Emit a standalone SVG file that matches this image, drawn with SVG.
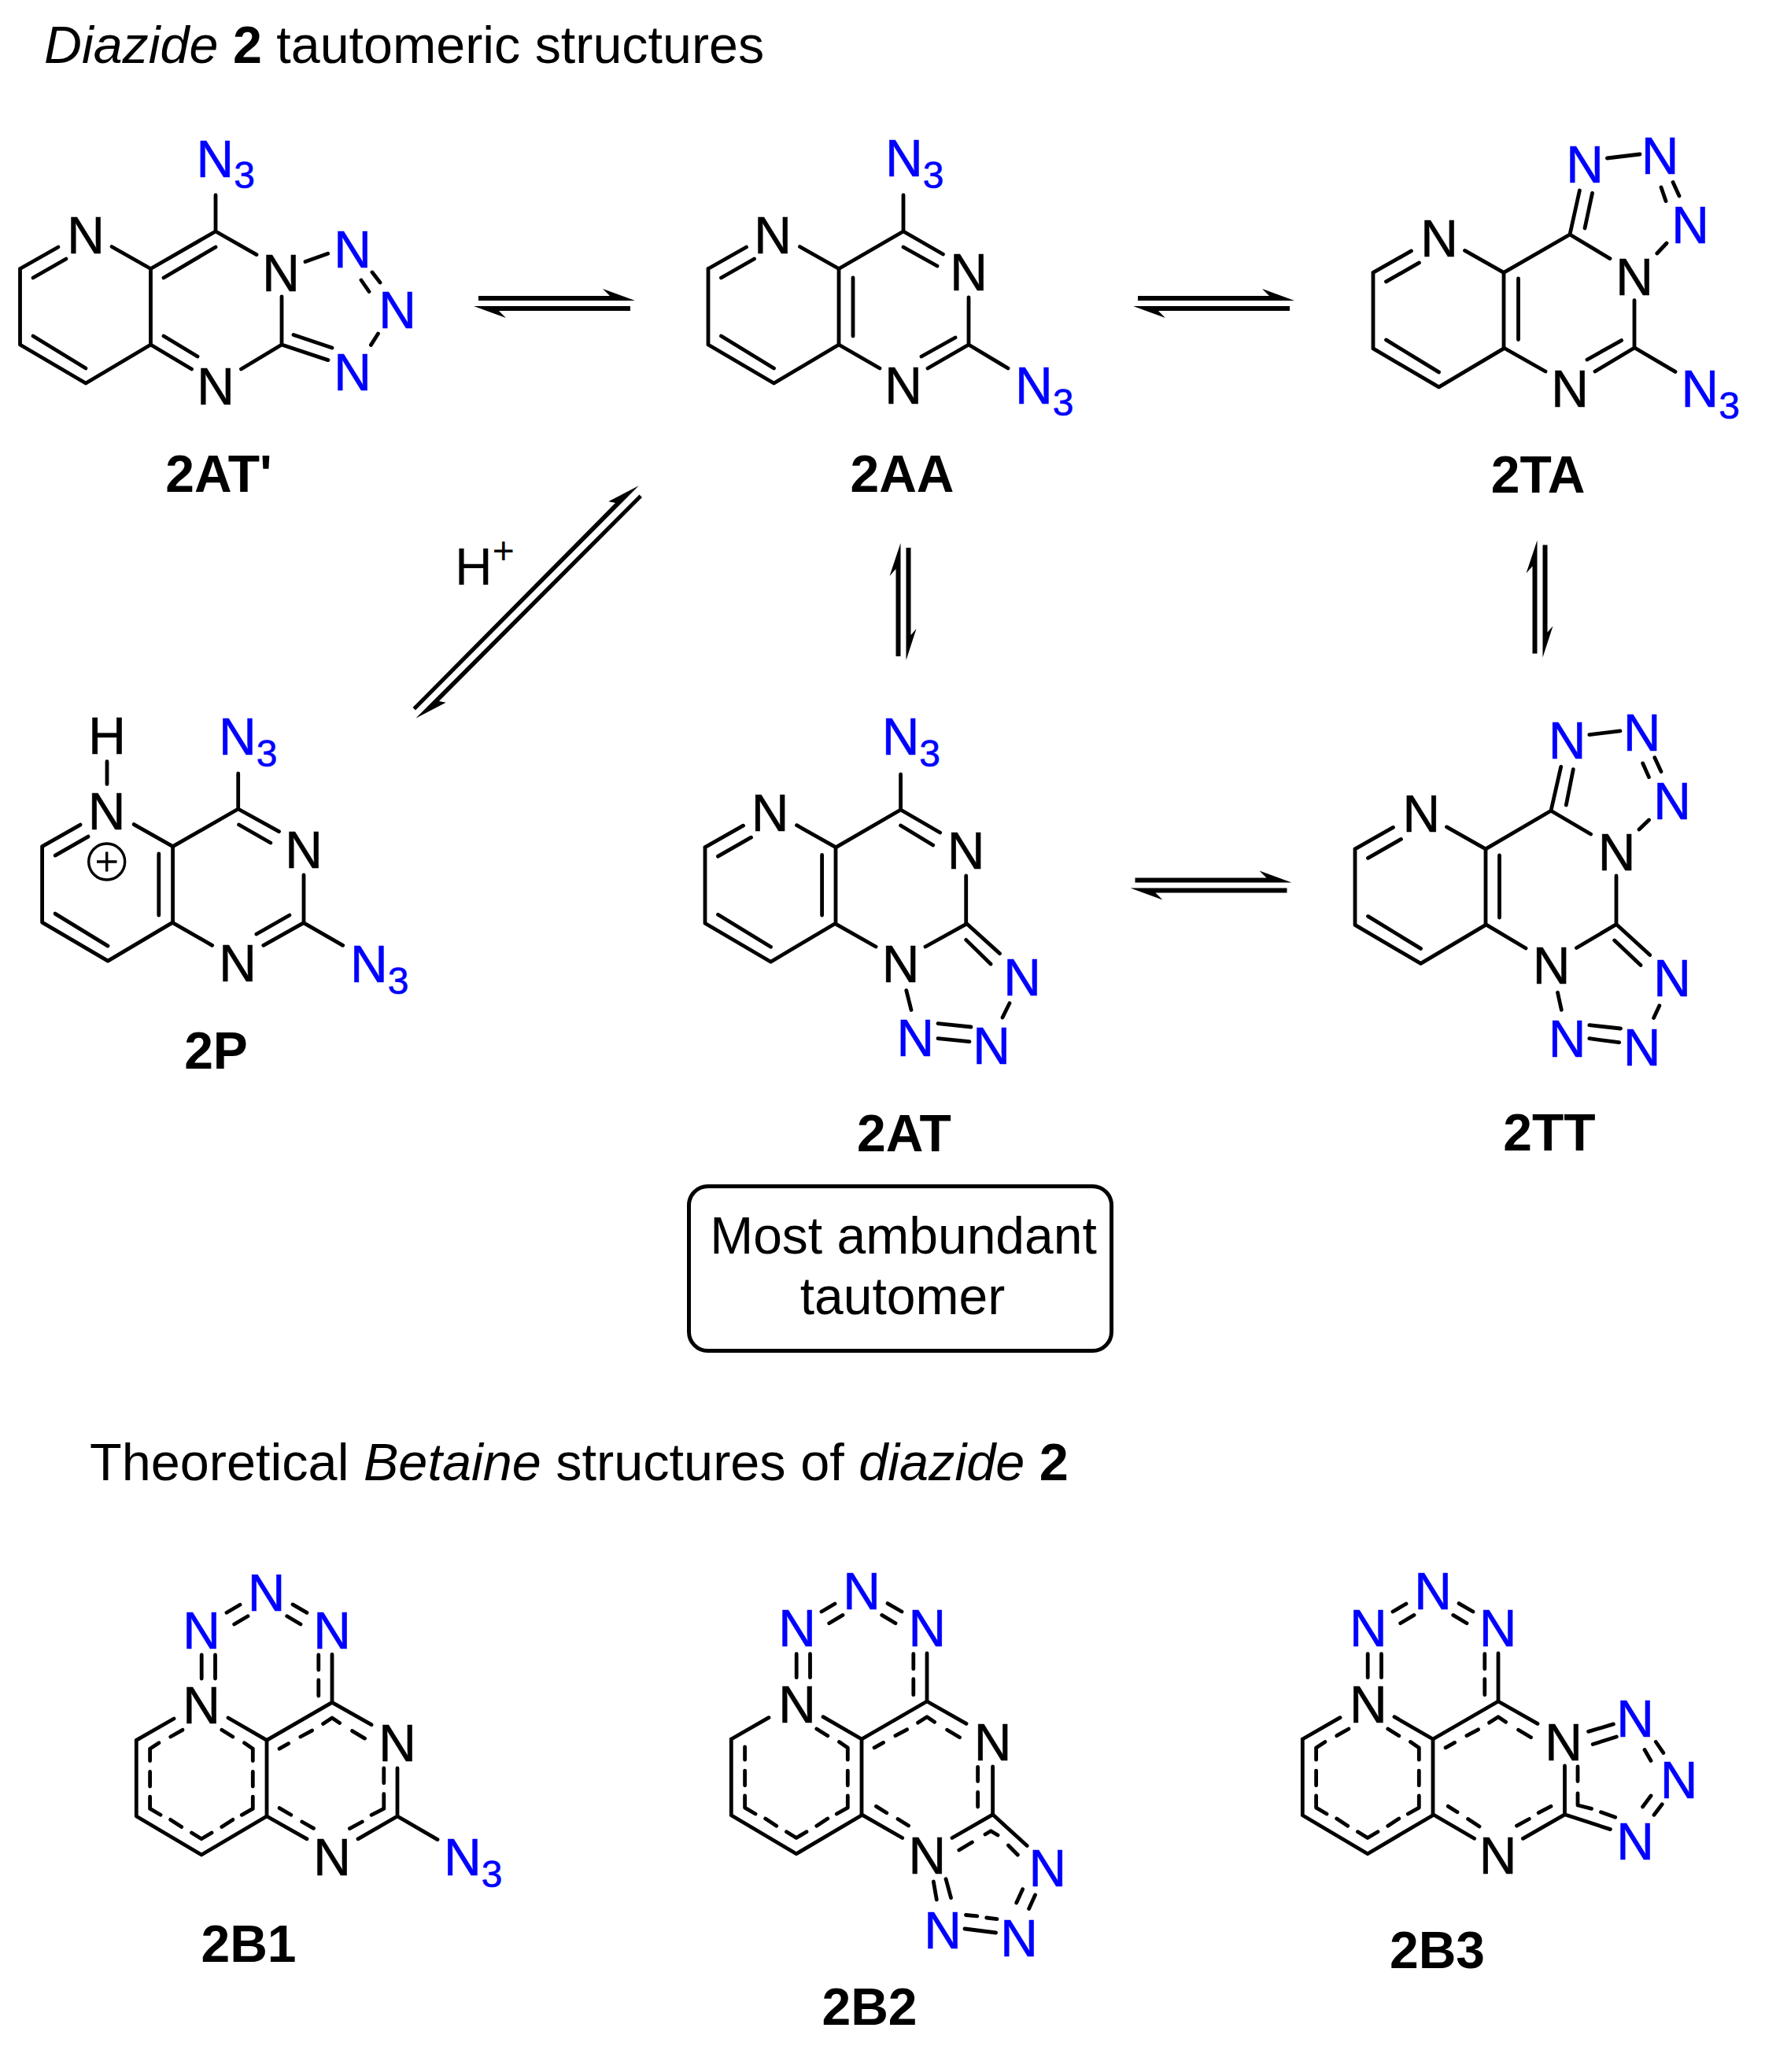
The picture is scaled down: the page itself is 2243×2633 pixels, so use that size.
<svg xmlns="http://www.w3.org/2000/svg" width="2243" height="2633" viewBox="0 0 2243 2633">
<style>
text{font-family:"Liberation Sans",Arial,sans-serif;font-size:66px;fill:#000}
.b{fill:none;stroke:#000;stroke-width:4.8;stroke-linecap:round;stroke-linejoin:round}
.n{text-anchor:middle;stroke:#000;stroke-width:.6}
.az{fill:#0000ff;stroke:#0000ff;stroke-width:.6}
.s{font-size:48px}
.lab{font-weight:bold;text-anchor:middle}
.arr{fill:#000;stroke:none}
.h1{font-size:66.4px}
.h2{font-size:66.6px}
</style>
<defs>
<path id="pyr" class="b" d="M-166,0L-117.5,-27.5M-149.5,11.5L-107.5,-12.5M-49.5,-28L0,0V96.5L-82.5,145.5L-166,96.5V0M-149.5,85.5L-82.5,126.5"/>
<path id="pyrB" class="b" d="M-165.7,0L-118,-27.3M-49,-28.3L0,0V96.7L-83,145.7L-165.7,96.7V0"/>
<path id="ulDash" class="b" d="M-107,-13L-122.3,-4.3M-137,3.5L-148.4,10.9V26.2"/>
<path id="ringDash" class="b" d="M-148.4,40.1V58.8M-148.4,71.9V87.1L-135,95M-122.3,101.1L-108.3,110.2M-95.5,117.7L-83,125.5L-70,117.7M-57.2,110.2L-43.2,101.1M-31.7,95L-17.7,87.1V71.9M-17.7,58.8V40.1M-17.7,26.2V10.9L-28.5,3.5M-43.2,-4.3L-57.2,-13"/>
<path id="topB" class="b" d="M0,0L83,-48L133,-19.6M16.1,10.9L27.6,4.4M42.9,-4.3L57.6,-12.2M71.6,-20.9L83,-28.3L92.6,-21.8M108.6,-11.7L124.5,-2.2M83,-48V-109M65.8,-108.3V-89.3M65.8,-76.3V-56.3M-82.8,-108.3V-78.3M-65.5,-108.3V-78.3M-51,-162L-34,-172M-41.3,-147.3L-24,-157.6M33,-172.4L51,-162M25.7,-157.6L43,-147.3"/>
<path id="eq" class="arr" d="M6,-13H173L164,-22L205,-7H6ZM199,0H0L41,15L32,6H199Z"/>
<path id="eqV" class="arr" d="M1144.5,834V690L1130.5,732L1138.5,723V834ZM1151.5,696V839L1164.5,799L1157.5,807V696Z"/>
</defs>

<g id="titles">
<text class="h1" x="56" y="79.5"><tspan font-style="italic">Diazide</tspan> <tspan font-weight="bold">2</tspan> tautomeric structures</text>
<text class="h2" x="114" y="1881"><tspan>Theoretical </tspan><tspan font-style="italic">Betaine</tspan><tspan> structures of </tspan><tspan font-style="italic">diazide</tspan> <tspan font-weight="bold">2</tspan></text>
</g>

<g id="connectors">
<use href="#eq" x="602" y="389"/>
<use href="#eq" x="1440" y="389"/>
<use href="#eq" x="1436.5" y="1128.5"/>
<use href="#eqV"/>
<use href="#eqV" x="809" y="-3.5"/>
<path class="arr" d="M811.7,617.3L773.3,637.3L782,639L524.5,899L528,902.5ZM528.3,912.7L566.7,892.7L558,891L816,632L812.5,628.5Z"/>
<text id="h-plus" x="578" y="742.7">H<tspan class="s" dy="-26.4">+</tspan></text>
</g>

<g id="mol-2ATp">
<use href="#pyr" x="191.5" y="341.5"/>
<path class="b" d="M274,248V294M191.5,341.5L274,294L326,323.6M208,353L274,314M358,377V438L306.5,469M191.5,438L243.5,469M208,427L251,453M358,438L417,457.6M373,425.4L422,442M388,332.6L416.7,322.3M459,356L469,370.5M473,346L483,359M480.5,424L471.4,438.4"/>
<text class="n" x="109" y="321.5">N</text><text class="n" x="357" y="370">N</text><text class="n" x="274" y="513.5">N</text>
<text class="n az" x="448" y="340">N</text><text class="n az" x="505" y="417">N</text><text class="n az" x="448" y="495.5">N</text>
<text class="az" x="249.5" y="224.5">N<tspan class="s" dy="14.5">3</tspan></text>
<text class="lab" x="278" y="625">2AT'</text>
</g>

<g id="mol-2AA">
<use href="#pyr" x="1066" y="341.5"/>
<path class="b" d="M1148,248V294M1066,341.5L1148,294L1198.4,323M1148,314L1191,338M1084,353V427M1231,378V438L1179,468M1214,429L1171,453M1066,438L1118,468M1231,438L1281,468"/>
<text class="n" x="982" y="321.5">N</text><text class="n" x="1231" y="369">N</text><text class="n" x="1148" y="513">N</text>
<text class="az" x="1125" y="224">N<tspan class="s" dy="14.5">3</tspan></text>
<text class="az" x="1290" y="513">N<tspan class="s" dy="14.5">3</tspan></text>
<text class="lab" x="1146.5" y="625">2AA</text>
</g>

<g id="mol-2TA">
<use href="#pyr" x="1911" y="346.4"/>
<path class="b" d="M1911,346.4L1995,298L2046,328.6M1995,298L2007.4,242M2014,290L2023.5,245.4M2042.4,201L2084,196M2111,238L2117,255.6M2126,231.6L2134,249M2105.8,322L2118,309M2077,381.6V441.8L2129,472.4M2077,442L2027,472M2060.6,432.6L2017,457M1911,442L1964,472M1929.5,354V431.6"/>
<text class="n" x="1829" y="325.5">N</text><text class="n" x="2077" y="374.5">N</text><text class="n" x="1995" y="517.4">N</text>
<text class="n az" x="2014" y="231.6">N</text><text class="n az" x="2109.5" y="221">N</text><text class="n az" x="2148" y="309">N</text>
<text class="az" x="2136.5" y="517.4">N<tspan class="s" dy="14.5">3</tspan></text>
<text class="lab" x="1954.6" y="625.5">2TA</text>
</g>

<g id="mol-2P">
<use href="#pyr" x="219.6" y="1075.6"/>
<path class="b" d="M219.6,1075.6L302.7,1028L354.5,1056.7M303.6,1048L343.8,1071M302.7,983V1028M201.8,1085V1163M386,1112V1172.6L334.8,1201.3M367.9,1163L325.9,1187M219.6,1172.6L269.6,1201.3M385.7,1172.6L435.7,1201.3M136,967.7V996.4"/>
<circle cx="135.7" cy="1095" r="23" fill="none" stroke="#000" stroke-width="3.4"/>
<path d="M123,1095H148.5M135.7,1082.5V1107.5" fill="none" stroke="#000" stroke-width="3.4"/>
<text class="n" x="136" y="958">H</text><text class="n" x="135.7" y="1054">N</text><text class="n" x="386" y="1102.6">N</text><text class="n" x="302" y="1247">N</text>
<text class="az" x="278" y="959">N<tspan class="s" dy="14.5">3</tspan></text>
<text class="az" x="445" y="1248">N<tspan class="s" dy="14.5">3</tspan></text>
<text class="lab" x="274.5" y="1358">2P</text>
</g>

<g id="mol-2AT">
<use href="#pyr" x="1062" y="1076.7"/>
<path class="b" d="M1144.6,984V1029M1062.5,1076.7L1144.6,1029L1194.6,1058M1144.6,1049L1185.7,1074M1044.6,1086.5V1163M1062.5,1174.3L1113,1203M1176,1203L1227.7,1174.3V1113M1227.7,1173L1270.5,1211.7M1227.7,1194.4L1259,1225M1151.8,1258.7L1158,1283.4M1192,1300.6L1234,1305M1192,1319.6L1232,1323.6M1283,1274.8L1274,1293"/>
<text class="n" x="978.6" y="1055.5">N</text><text class="n" x="1227.7" y="1103.7">N</text><text class="n" x="1144.6" y="1248">N</text>
<text class="n az" x="1299" y="1264.5">N</text><text class="n az" x="1163.4" y="1342">N</text><text class="n az" x="1260" y="1352">N</text>
<text class="az" x="1120.7" y="959">N<tspan class="s" dy="14.5">3</tspan></text>
<text class="lab" x="1149" y="1462.5">2AT</text>
</g>

<g id="mol-2TT">
<use href="#pyr" x="1888" y="1078.9"/>
<path class="b" d="M1888,1078.9L1971,1030.3L2021.6,1060M1971,1030.3L1983.7,974.4M1990.3,1023L1999.3,977.7M2019.8,933.7L2059,928.8M2087.7,970L2095.5,987.6M2102.8,962.8L2111,980.6M2083,1054L2095.5,1042M2054,1113V1174.6L2003.5,1204.5M1888,1174.6L1939,1205M2054,1174.6L2096.7,1213.6M2051.7,1195L2085,1226.5M1979.5,1261.3L1984.3,1283.3M2019.8,1302.7L2059.5,1307M2019.8,1319.7L2057.7,1324.7M2108.8,1277.9L2101.6,1293.6M1905.5,1087V1166"/>
<text class="n" x="1806.3" y="1057.3">N</text><text class="n" x="2054.7" y="1105.8">N</text><text class="n" x="1971.7" y="1250">N</text>
<text class="n az" x="1991.5" y="964">N</text><text class="n az" x="2086.5" y="953.6">N</text><text class="n az" x="2125" y="1040.7">N</text><text class="n az" x="2125" y="1266">N</text><text class="n az" x="2086.5" y="1354">N</text><text class="n az" x="1991.5" y="1343">N</text>
<text class="lab" x="1969" y="1462">2TT</text>
</g>

<g id="note-box">
<rect x="875.5" y="1507.5" width="537" height="209" rx="24" ry="24" fill="none" stroke="#000" stroke-width="5"/>
<text class="n" x="1148" y="1593.3" style="stroke:none">Most ambundant</text>
<text class="n" x="1147" y="1670" style="stroke:none">tautomer</text>
</g>

<g id="mol-2B1">
<use href="#pyrB" x="339" y="2211.3"/><use href="#ulDash" x="339" y="2211.3"/><use href="#ringDash" x="339" y="2211.3"/><use href="#topB" x="339" y="2211.3"/>
<path class="b" d="M505,2247V2308L455,2336.8M339,2308L390,2336.8M505,2308L556,2337.6M487.8,2247V2265.8M487.8,2279.7V2298.4L472.1,2306.3M444.4,2323.7L460.3,2315M355.1,2297.6L369.8,2306.3M383.8,2315L398.5,2323.3"/>
<text class="n" x="256" y="2190.4">N</text><text class="n" x="505" y="2238">N</text><text class="n" x="422" y="2383.4">N</text>
<text class="n az" x="256" y="2094.6">N</text><text class="n az" x="338.5" y="2046.7">N</text><text class="n az" x="422" y="2094.6">N</text>
<text class="az" x="564" y="2383">N<tspan class="s" dy="14.5">3</tspan></text>
<text class="lab" x="316" y="2493">2B1</text>
</g>

<g id="mol-2B2">
<use href="#pyrB" x="1095" y="2210"/><use href="#ringDash" x="1095" y="2210"/><use href="#topB" x="1095" y="2210"/>
<path class="b" d="M946.6,2220V2236.2M1261.6,2245V2305.8L1210,2335.5M1242.6,2245.3V2263.6M1242.6,2277.5V2296M1095,2305.8L1146.7,2335.5M1113.4,2295.4L1126.8,2303.7M1141,2311.5L1154.6,2320M1261.6,2305.8L1305.2,2345.5M1218.8,2351L1235.4,2341M1252,2331L1259.2,2326.7L1268,2332M1281.4,2345L1293.3,2357M1186.3,2391L1190.3,2414M1202,2387.7L1208.5,2411.7M1227.5,2433.5L1241.8,2434.8M1253.7,2437L1267,2438.6M1226,2451L1265.6,2456M1299.6,2400.8L1291.7,2418M1315.5,2408L1307.6,2425.6"/>
<text class="n" x="1013" y="2188.5">N</text><text class="n" x="1261.6" y="2236.6">N</text><text class="n" x="1178.4" y="2381">N</text>
<text class="n az" x="1013" y="2092.4">N</text><text class="n az" x="1095" y="2044.5">N</text><text class="n az" x="1178.4" y="2092.4">N</text><text class="n az" x="1331.4" y="2397.3">N</text><text class="n az" x="1295" y="2485.7">N</text><text class="n az" x="1198" y="2475.7">N</text>
<text class="lab" x="1105" y="2573">2B2</text>
</g>

<g id="mol-2B3">
<use href="#pyrB" x="1821" y="2210"/><use href="#ulDash" x="1821" y="2210"/><use href="#ringDash" x="1821" y="2210"/><use href="#topB" x="1821" y="2210"/>
<path class="b" d="M1988.5,2244V2305.8L1935.4,2336.3M1988.5,2305.8L2046.4,2324.6M2005,2245V2263.6M2005,2279V2294L2022.5,2298.4M2034.5,2302.8L2052.7,2309.3M1821.2,2305.8L1873.6,2336.3M1840.3,2295.4L1852,2302.8M1865.6,2311.5L1880,2321M1927.5,2320.2L1943.3,2311.5M1955.2,2303.7L1971,2295.4M2018.6,2200.4L2050.4,2190.9M2024.2,2216.5L2054.3,2207M2090,2223.5L2098,2237.5M2104.3,2213.5L2113.8,2227.4M2087.6,2296L2098,2282M2102,2306.3L2112.2,2292.8"/>
<text class="n" x="1738.8" y="2188.5">N</text><text class="n" x="1987" y="2236.6">N</text><text class="n" x="1903.7" y="2381">N</text>
<text class="n az" x="1738.8" y="2092.4">N</text><text class="n az" x="1821.2" y="2044.5">N</text><text class="n az" x="1903.7" y="2092.4">N</text><text class="n az" x="2078" y="2207">N</text><text class="n az" x="2133.6" y="2284.5">N</text><text class="n az" x="2078" y="2362.5">N</text>
<text class="lab" x="1826.5" y="2501">2B3</text>
</g>
</svg>
